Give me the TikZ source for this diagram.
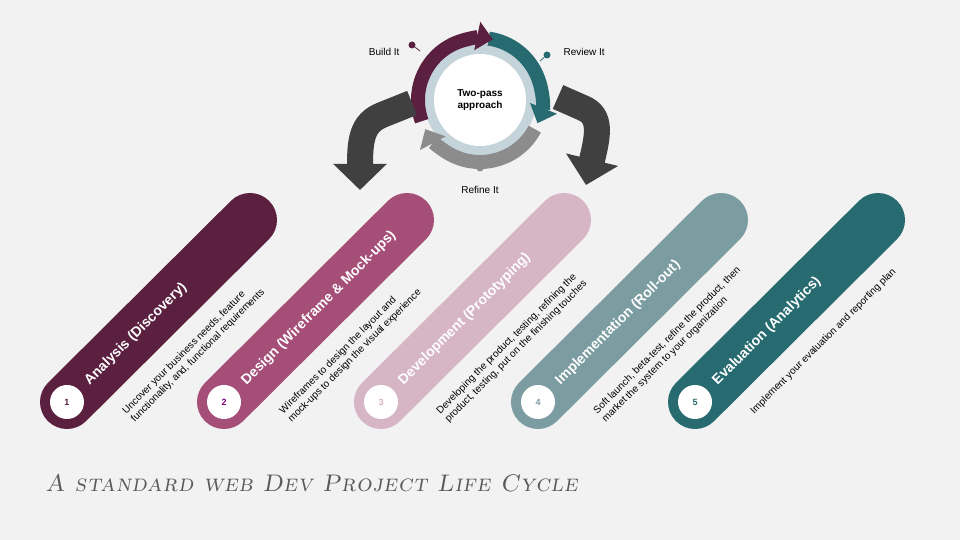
\documentclass[tikz,border=0pt]{standalone}
\usepackage{fontspec}
\setmainfont{Liberation Sans}
\newfontfamily\headfont{lmromancaps10-regular}[Extension=.otf,LetterSpace=4,FakeSlant=0.18]
\usetikzlibrary{arrows.meta,positioning}
\definecolor{bg}{HTML}{F2F2F2}
\definecolor{plum}{HTML}{5B2040}
\definecolor{rose}{HTML}{A54E77}
\definecolor{blush}{HTML}{D6B5C5}
\definecolor{slate}{HTML}{7B9CA1}
\definecolor{deepteal}{HTML}{276B70}
\definecolor{ringgray}{HTML}{8C8C8C}
\definecolor{ringpale}{HTML}{C5D3DB}
\definecolor{bigarr}{HTML}{404040}
\tikzset{
  pill/.style={line width=54pt,line cap=round},
  badge/.style={circle,fill=white,minimum size=34pt,inner sep=0pt,font=\small\bfseries},
  phase/.style={rotate=45,anchor=west,text=white,font=\fontsize{14}{16}\selectfont\bfseries,inner sep=0pt},
  blurb/.style={rotate=45,anchor=north west,align=left,font=\fontsize{10}{12}\selectfont,inner sep=0pt},
  cyc/.style={line width=14pt,-{Triangle[width=28pt,length=16pt]}},
  bigarrow/.style={bigarr,line width=26pt,-{Triangle[width=52pt,length=26pt]}},
  pin/.style={circle,inner sep=0pt,minimum size=7pt},
  cyclabel/.style={font=\fontsize{10}{12}\selectfont},
}
\begin{document}
\begin{tikzpicture}[x=1pt,y=1pt]
  \fill[bg] (0,0) rectangle (960,540);

  % two-pass cycle
  \fill[ringpale] (480,440) circle (56);
  \fill[white] (480,440) circle (46);
  \node[font=\fontsize{10}{12}\selectfont\bfseries,align=center] (core) at (480,440) {Two-pass\\approach};
  \draw[cyc,ringgray] (480,440) ++(-28:62) arc[start angle=-28,end angle=-152,radius=62];
  \draw[cyc,deepteal] (480,440) ++(82:62) arc[start angle=82,end angle=-22,radius=62];
  \draw[cyc,plum] (480,440) ++(200:62) arc[start angle=200,end angle=78,radius=62];

  \node[pin,fill=plum] (buildpin) at (412,495) {};
  \draw[plum,thick] (buildpin) -- (420,489);
  \node[cyclabel,anchor=east] (build) at (403,488) {Build It};
  \node[pin,fill=deepteal] (reviewpin) at (547,485) {};
  \draw[deepteal,thick] (reviewpin) -- (540,479);
  \node[cyclabel,anchor=west] (review) at (560,488) {Review It};
  \node[pin,fill=ringgray] (refinepin) at (480,372) {};
  \node[cyclabel] (refine) at (480,350) {Refine It};

  % branch arrows
  \draw[bigarrow] (412,437) -- (382,425) .. controls (362,417) and (360,400) .. (360,350);
  \draw[bigarrow] (558,443) -- (583,432) .. controls (602,424) and (598,405) .. (586,355);

  % phases
  \foreach \i/\col/\numcol/\name/\desc in {
    0/plum/plum/Analysis (Discovery)/{Uncover your business needs, feature\\functionality, and, functional requirements},
    1/rose/violet/Design (Wireframe \& Mock-ups)/{Wireframes to design the layout and\\mock-ups to design the visual experience},
    2/blush/blush/Development (Prototyping)/{Developing the product, testing, refining the\\product, testing, put on the finishing touches},
    3/slate/slate/Implementation (Roll-out)/{Soft launch, beta-test, refine the product, then\\market the system to your organization},
    4/deepteal/deepteal/Evaluation (Analytics)/{Implement your evaluation and reporting plan}} {
    \draw[pill,\col] (67+157*\i,138) coordinate (base\i) -- (250+157*\i,320);
    \node[badge,text=\numcol] (num\i) at (base\i) {\pgfmathparse{int(\i+1)}\pgfmathresult};
    \node[phase] (title\i) at (87+157*\i,157) {\name};
    \node[blurb] (text\i) at (121+157*\i,131) {\desc};
  }

  \node[anchor=base west,text=black!65,font=\headfont\fontsize{24}{28}\selectfont] (heading) at (42,48) {A standard web Dev Project Life Cycle};
\end{tikzpicture}
\end{document}
